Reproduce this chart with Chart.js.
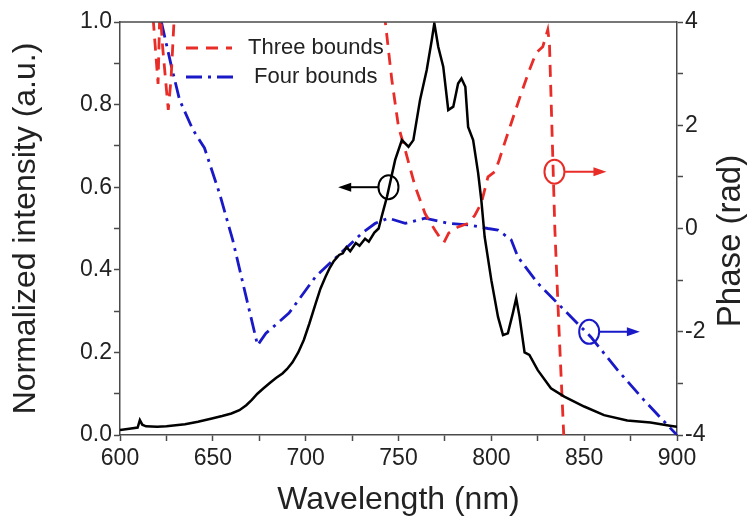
<!DOCTYPE html>
<html><head><meta charset="utf-8">
<script src="https://cdn.jsdelivr.net/npm/chart.js@4/dist/chart.umd.min.js"></script>
<style>html,body{margin:0;padding:0;background:#fff}#wrap{width:747px;height:524px}</style>
</head><body><div id="wrap"><canvas id="c" width="747" height="524"></canvas></div>
<script>
// ---- data ----
const intensityWavelength = [600,605,609.5,610.7,612,614,620,625,635,642,649.5,655,660,664.3,668,671,674,677,681,684,687.5,690,692.9,696,699,702,705.4,708,710.7,713,715,718,720,722,724,727,729,732,734,737,739.3,741,743.8,748.2,751.8,755.4,758,761.6,765.2,767.9,769.3,771.4,774.1,776.8,779.5,782.1,783.9,786,787.5,790.2,792.9,794.6,796.4,800,803.6,806.3,808.9,811.6,813.4,815.2,817.9,820.5,825,832.1,839.3,850,860.7,873.2,885.7,897,900];
const intensityValues = [0.012,0.015,0.018,0.036,0.025,0.021,0.02,0.021,0.026,0.032,0.04,0.046,0.052,0.06,0.072,0.085,0.10,0.112,0.127,0.138,0.149,0.16,0.176,0.2,0.23,0.27,0.319,0.355,0.383,0.405,0.42,0.436,0.44,0.455,0.445,0.465,0.458,0.475,0.468,0.49,0.50,0.53,0.577,0.666,0.714,0.698,0.714,0.811,0.884,0.956,0.997,0.94,0.892,0.787,0.795,0.851,0.863,0.843,0.746,0.714,0.634,0.569,0.48,0.375,0.286,0.242,0.246,0.295,0.331,0.286,0.2,0.194,0.157,0.113,0.093,0.069,0.048,0.035,0.03,0.022,0.02];

const threeWavelength = [616,618,620.5,621.5,623,626,627.5,629.5,630,742,742.9,746.4,750,753.6,759,764.3,769.6,773.2,774.5,777,782.1,787.5,791,794.6,798.2,801.8,804,807.1,810.7,816.1,820.5,824.1,827.7,830.4,831.3,833,834.2,836.5,839,839.5];
const threePhase = [6,4.0,2.8,4.3,3.5,2.3,2.9,4.3,6,6,4.0,2.88,1.97,1.52,0.81,0.29,-0.03,-0.22,-0.27,-0.09,0.03,0.1,0.25,0.49,1.0,1.1,1.3,1.65,2.04,2.62,3.07,3.4,3.52,3.85,3.59,1.5,0,-2,-4,-4.3];

const fourWavelength = [620.5,622.3,627.7,632.1,639.3,645.5,653.6,660.7,667.9,674.1,678.6,691,705.4,717.9,730.4,737.5,744.6,753.6,764.3,776.8,787.5,798.2,803.6,810.7,814.3,825,839.3,853.6,867.9,882.1,897.3,900];
const fourPhase = [4.6,4.0,3.14,2.49,1.91,1.56,0.68,-0.22,-1.32,-2.26,-2.03,-1.64,-0.93,-0.51,-0.09,0.1,0.2,0.1,0.2,0.1,0.07,0.0,-0.03,-0.22,-0.55,-1.06,-1.58,-2.1,-2.74,-3.32,-3.9,-4.0];

const seriesLabels = ['Intensity', 'Three bounds', 'Four bounds'];
const xTitle = 'Wavelength (nm)';
const yTitle = 'Normalized intensity (a.u.)';
const y1Title = 'Phase (rad)';

// annotation markers (data coordinates)
const markerCenters = [[744.6, 0.6], [834, 1.1], [852.7, -2.0]];
const markerArrowTips = [717.5, 862, 880];

const RED = 'rgb(232,45,40)';
const BLUE = 'rgb(25,25,200)';
const AXIS = '#4a4a4a';
const FONT = "'Liberation Sans', Arial, sans-serif";

const toXY = (xs, ys) => xs.map((x, i) => ({x, y: ys[i]}));

const overlay = {
  id: 'overlay',
  afterDraw(chart) {
    const {ctx, chartArea: a, scales} = chart;
    ctx.save();
    // top frame line
    ctx.strokeStyle = AXIS; ctx.lineWidth = 1.5;
    ctx.beginPath(); ctx.moveTo(a.left, a.top); ctx.lineTo(a.right, a.top); ctx.stroke();

    // legend
    const ds = chart.data.datasets;
    const legendRows = [[1, 48, 186, 232, 248], [2, 77, 186, 238, 254]];
    ctx.font = '22px ' + FONT; ctx.textBaseline = 'middle'; ctx.textAlign = 'left';
    legendRows.forEach(([i, y, x0, x1, tx]) => {
      const d = ds[i];
      ctx.strokeStyle = d.borderColor; ctx.lineWidth = d.borderWidth;
      ctx.setLineDash(d.borderDash);
      ctx.beginPath(); ctx.moveTo(x0, y); ctx.lineTo(x1, y); ctx.stroke();
      ctx.setLineDash([]);
      ctx.fillStyle = '#222';
      ctx.fillText(d.label, tx, y);
    });

    // circle + arrow markers
    const axes = ['y', 'y1', 'y1'];
    const cols = ['#000', RED, BLUE];
    markerCenters.forEach(([mx, my], i) => {
      const cx = scales.x.getPixelForValue(mx);
      const cy = scales[axes[i]].getPixelForValue(my);
      const tip = scales.x.getPixelForValue(markerArrowTips[i]);
      const dir = tip < cx ? -1 : 1;
      ctx.strokeStyle = cols[i]; ctx.fillStyle = cols[i]; ctx.lineWidth = 2;
      ctx.beginPath(); ctx.ellipse(cx, cy, 10, 12, 0, 0, Math.PI * 2); ctx.stroke();
      ctx.beginPath(); ctx.moveTo(cx + dir * 10, cy); ctx.lineTo(tip - dir * 10, cy); ctx.stroke();
      ctx.beginPath(); ctx.moveTo(tip, cy); ctx.lineTo(tip - dir * 13, cy - 4.5); ctx.lineTo(tip - dir * 13, cy + 4.5); ctx.closePath(); ctx.fill();
    });

    // right axis title (reads bottom-to-top)
    ctx.fillStyle = '#222'; ctx.font = '33px ' + FONT; ctx.textAlign = 'center'; ctx.textBaseline = 'middle';
    ctx.translate(731, 241); ctx.rotate(-Math.PI / 2);
    ctx.fillText(y1Title, 0, 0);
    ctx.restore();
  }
};

const tickFont = {family: FONT, size: 23};
new Chart(document.getElementById('c'), {
  type: 'line',
  data: {
    datasets: [
      {label: seriesLabels[0], data: toXY(intensityWavelength, intensityValues), yAxisID: 'y', borderColor: '#000', borderWidth: 2.5, pointRadius: 0, tension: 0, order: 0},
      {label: seriesLabels[1], data: toXY(threeWavelength, threePhase), yAxisID: 'y1', borderColor: RED, borderWidth: 2.8, borderDash: [12, 8], pointRadius: 0, tension: 0, order: 1},
      {label: seriesLabels[2], data: toXY(fourWavelength, fourPhase), yAxisID: 'y1', borderColor: BLUE, borderWidth: 2.8, borderDash: [16, 6, 3, 6], pointRadius: 0, tension: 0, order: 2}
    ]
  },
  options: {
    responsive: false, animation: false, devicePixelRatio: 1,
    layout: {padding: {top: 22, left: 0, right: 0, bottom: 0}},
    plugins: {legend: {display: false}, tooltip: {enabled: false}},
    scales: {
      x: {
        type: 'linear', position: 'bottom', min: 600, max: 900,
        afterFit: s => { s.height = 89; },
        border: {color: AXIS, width: 1.5},
        grid: {drawOnChartArea: false, tickLength: 6, color: AXIS, tickWidth: 1.5},
        ticks: {stepSize: 25, autoSkip: false, maxRotation: 0, padding: 4, color: '#222', font: tickFont,
          callback: v => (v % 50 === 0 ? String(v) : '')},
        title: {display: true, text: xTitle, color: '#222', font: {family: FONT, size: 32}, padding: {top: 0, bottom: 5}}
      },
      y: {
        type: 'linear', position: 'left', min: 0, max: 1,
        afterFit: s => { s.width = 120; },
        border: {color: AXIS, width: 1.5},
        grid: {drawOnChartArea: false, tickLength: 6, color: AXIS, tickWidth: 1.5},
        ticks: {stepSize: 0.1, autoSkip: false, padding: 2, color: '#222', font: tickFont,
          callback: v => (Math.round(v * 10) % 2 === 0 ? v.toFixed(1) : '')},
        title: {display: true, text: yTitle, color: '#222', font: {family: FONT, size: 32}, padding: {top: 7, bottom: 0}}
      },
      y1: {
        type: 'linear', position: 'right', min: -4, max: 4,
        afterFit: s => { s.width = 70; },
        border: {color: AXIS, width: 1.5},
        grid: {drawOnChartArea: false, tickLength: 6, color: AXIS, tickWidth: 1.5},
        ticks: {stepSize: 1, autoSkip: false, padding: 2, color: '#222', font: tickFont,
          callback: v => (v % 2 === 0 ? String(v) : '')}
      }
    }
  },
  plugins: [overlay]
});
</script>
</body></html>
